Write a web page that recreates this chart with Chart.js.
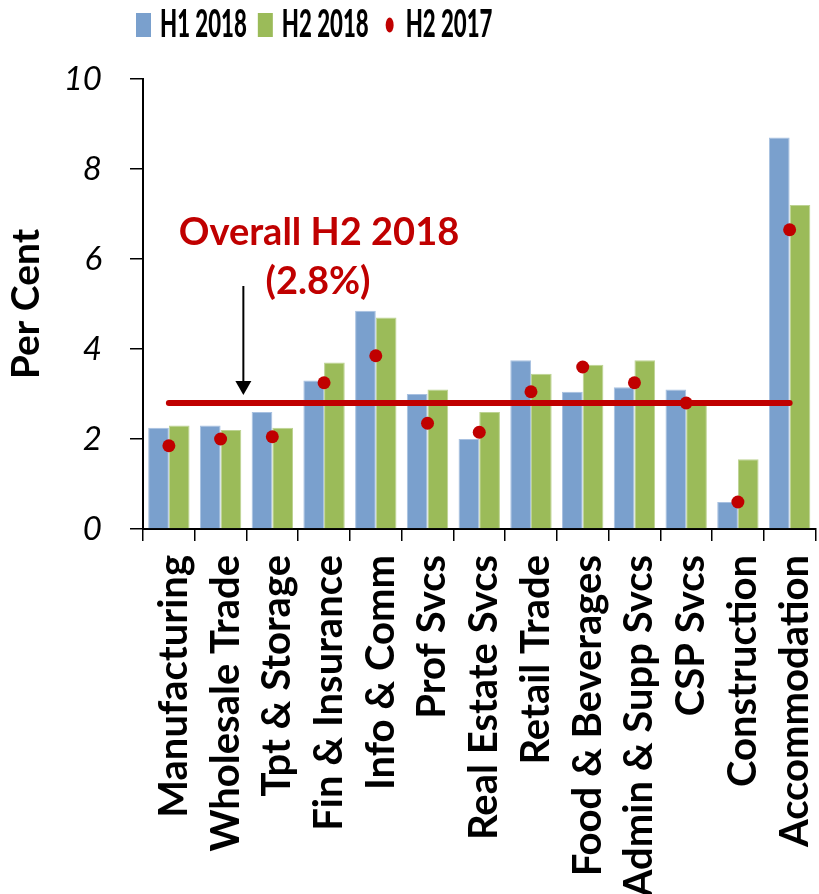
<!DOCTYPE html>
<html>
<head>
<meta charset="utf-8">
<script src="https://cdn.jsdelivr.net/npm/chart.js@4/dist/chart.umd.min.js"></script>
<style>
  html, body { margin: 0; padding: 0; background: #fff; overflow: hidden; width: 819px; height: 894px; }
  #wrap { width: 822px; height: 894px; }
</style>
</head>
<body>
<div id="wrap"><canvas id="chart" width="822" height="894"></canvas></div>
<script>
// Growth by industry, per cent
const categories = [
  'Manufacturing', 'Wholesale Trade', 'Tpt & Storage', 'Fin & Insurance',
  'Info & Comm', 'Prof Svcs', 'Real Estate Svcs', 'Retail Trade',
  'Food & Beverages', 'Admin & Supp Svcs', 'CSP Svcs', 'Construction', 'Accommodation'
];
const h1_2018 = [2.25, 2.3, 2.6, 3.3, 4.85, 3.0, 2.0, 3.75, 3.05, 3.15, 3.1, 0.6, 8.7];
const h2_2018 = [2.3, 2.2, 2.25, 3.7, 4.7, 3.1, 2.6, 3.45, 3.65, 3.75, 2.8, 1.55, 7.2];
const h2_2017 = [1.85, 2.0, 2.05, 3.25, 3.85, 2.35, 2.15, 3.05, 3.6, 3.25, 2.8, 0.6, 6.65];
const overallH2_2018 = 2.8;
const yTicks = [0, 2, 4, 6, 8, 10];

const FONT = 'Lato, "Open Sans", sans-serif';
const BLUE = '#7AA0CD';
const GREEN = '#9BBB59';
const RED = '#C00000';

// Legend drawn across the top, text set narrow
const topLegend = {
  id: 'topLegend',
  afterDraw(chart) {
    const c = chart.ctx;
    const items = chart.data.datasets.filter(d => d.inLegend);
    const top = 13, h = 24, base = 37, sx = 0.6;
    let x = 136;
    c.save();
    c.font = `900 37px ${FONT}`;
    c.textBaseline = 'alphabetic';
    items.forEach(d => {
      if (d.type === 'line') {
        x += 6;
        c.fillStyle = d.pointBackgroundColor;
        c.beginPath();
        c.ellipse(x + 4, top + h / 2, 4, 7.5, 0, 0, Math.PI * 2);
        c.fill();
        x += 8 + 12;
      } else {
        c.fillStyle = d.backgroundColor;
        c.fillRect(x, top, 15, h);
        x += 15 + 9;
      }
      c.fillStyle = '#000';
      c.save();
      c.translate(x, base);
      c.scale(sx, 1);
      c.fillText(d.label, 0, 0);
      c.restore();
      x += c.measureText(d.label).width * sx + 11;
    });
    c.restore();
  }
};

// Callout for the overall line: text and a downward arrow
const overallCallout = {
  id: 'overallCallout',
  afterDraw(chart) {
    const c = chart.ctx;
    const xs = chart.scales.x, ys = chart.scales.y;
    const yLine = ys.getPixelForValue(overallH2_2018);
    c.save();
    c.fillStyle = RED;
    c.font = `bold 38px ${FONT}`;
    c.textAlign = 'center';
    c.textBaseline = 'alphabetic';
    c.fillText('Overall H2 2018', 319, 245);
    c.fillText(`(${overallH2_2018.toFixed(1)}%)`, 318, 294);
    // arrow
    const ax = xs.getPixelForValue(1) + 0.88 * (xs.getPixelForValue(2) - xs.getPixelForValue(1)) / 2;
    const tipY = yLine - 8;
    c.strokeStyle = '#000';
    c.fillStyle = '#000';
    c.lineWidth = 2;
    c.beginPath();
    c.moveTo(ax, 286);
    c.lineTo(ax, tipY - 12);
    c.stroke();
    c.beginPath();
    c.moveTo(ax - 8, tipY - 14);
    c.lineTo(ax + 8, tipY - 14);
    c.lineTo(ax, tipY);
    c.closePath();
    c.fill();
    c.restore();
  }
};

new Chart(document.getElementById('chart'), {
  type: 'bar',
  data: {
    labels: categories,
    datasets: [
      {
        label: 'H1 2018', data: h1_2018, inLegend: true,
        backgroundColor: BLUE, borderColor: '#A8C1E1', borderWidth: 1,
        categoryPercentage: 0.8, barPercentage: 1.0, order: 3
      },
      {
        label: 'H2 2018', data: h2_2018, inLegend: true,
        backgroundColor: GREEN, borderColor: '#BDD393', borderWidth: 1,
        categoryPercentage: 0.8, barPercentage: 1.0, order: 3
      },
      {
        type: 'line', label: 'H2 2017', data: h2_2017, inLegend: true,
        showLine: false, pointRadius: 6.5, pointBorderWidth: 0,
        pointBackgroundColor: RED, pointBorderColor: RED, order: 1
      },
      {
        type: 'line', label: 'Overall H2 2018', data: categories.map(() => overallH2_2018),
        borderColor: RED, borderWidth: 6, borderCapStyle: 'round',
        pointRadius: 0, fill: false, order: 2
      }
    ]
  },
  options: {
    responsive: false,
    animation: false,
    layout: { padding: { top: 79, left: 0, right: 0, bottom: 0 } },
    plugins: { legend: { display: false }, tooltip: { enabled: false } },
    scales: {
      x: {
        offset: true,
        grid: { offset: true, drawOnChartArea: false, drawTicks: true, tickLength: 12, color: '#000', lineWidth: 1.5 },
        border: { display: true, color: '#000', width: 2 },
        ticks: {
          minRotation: 90, maxRotation: 90, autoSkip: false, padding: 14, labelOffset: 5,
          color: '#000', font: { family: FONT, size: 40, weight: 'bold' }
        },
        afterFit(s) { s.height = 894 - 529; s.paddingLeft = 0; s.paddingRight = 0; }
      },
      y: {
        min: 0, max: 10,
        afterBuildTicks(s) { s.ticks = yTicks.map(v => ({ value: v })); },
        grid: { drawOnChartArea: false, drawTicks: true, tickLength: 13, color: '#000', lineWidth: 1.5 },
        border: { display: true, color: '#000', width: 2 },
        ticks: { padding: 28, color: '#000', font: { family: FONT, size: 33, style: 'italic' } },
        title: {
          display: true, text: 'Per Cent', color: '#000',
          font: { family: FONT, size: 39, weight: 'bold' }, padding: { top: 3, bottom: 0 }
        },
        afterFit(s) { s.width = 143; }
      }
    }
  },
  plugins: [topLegend, overallCallout]
});
</script>
</body>
</html>
